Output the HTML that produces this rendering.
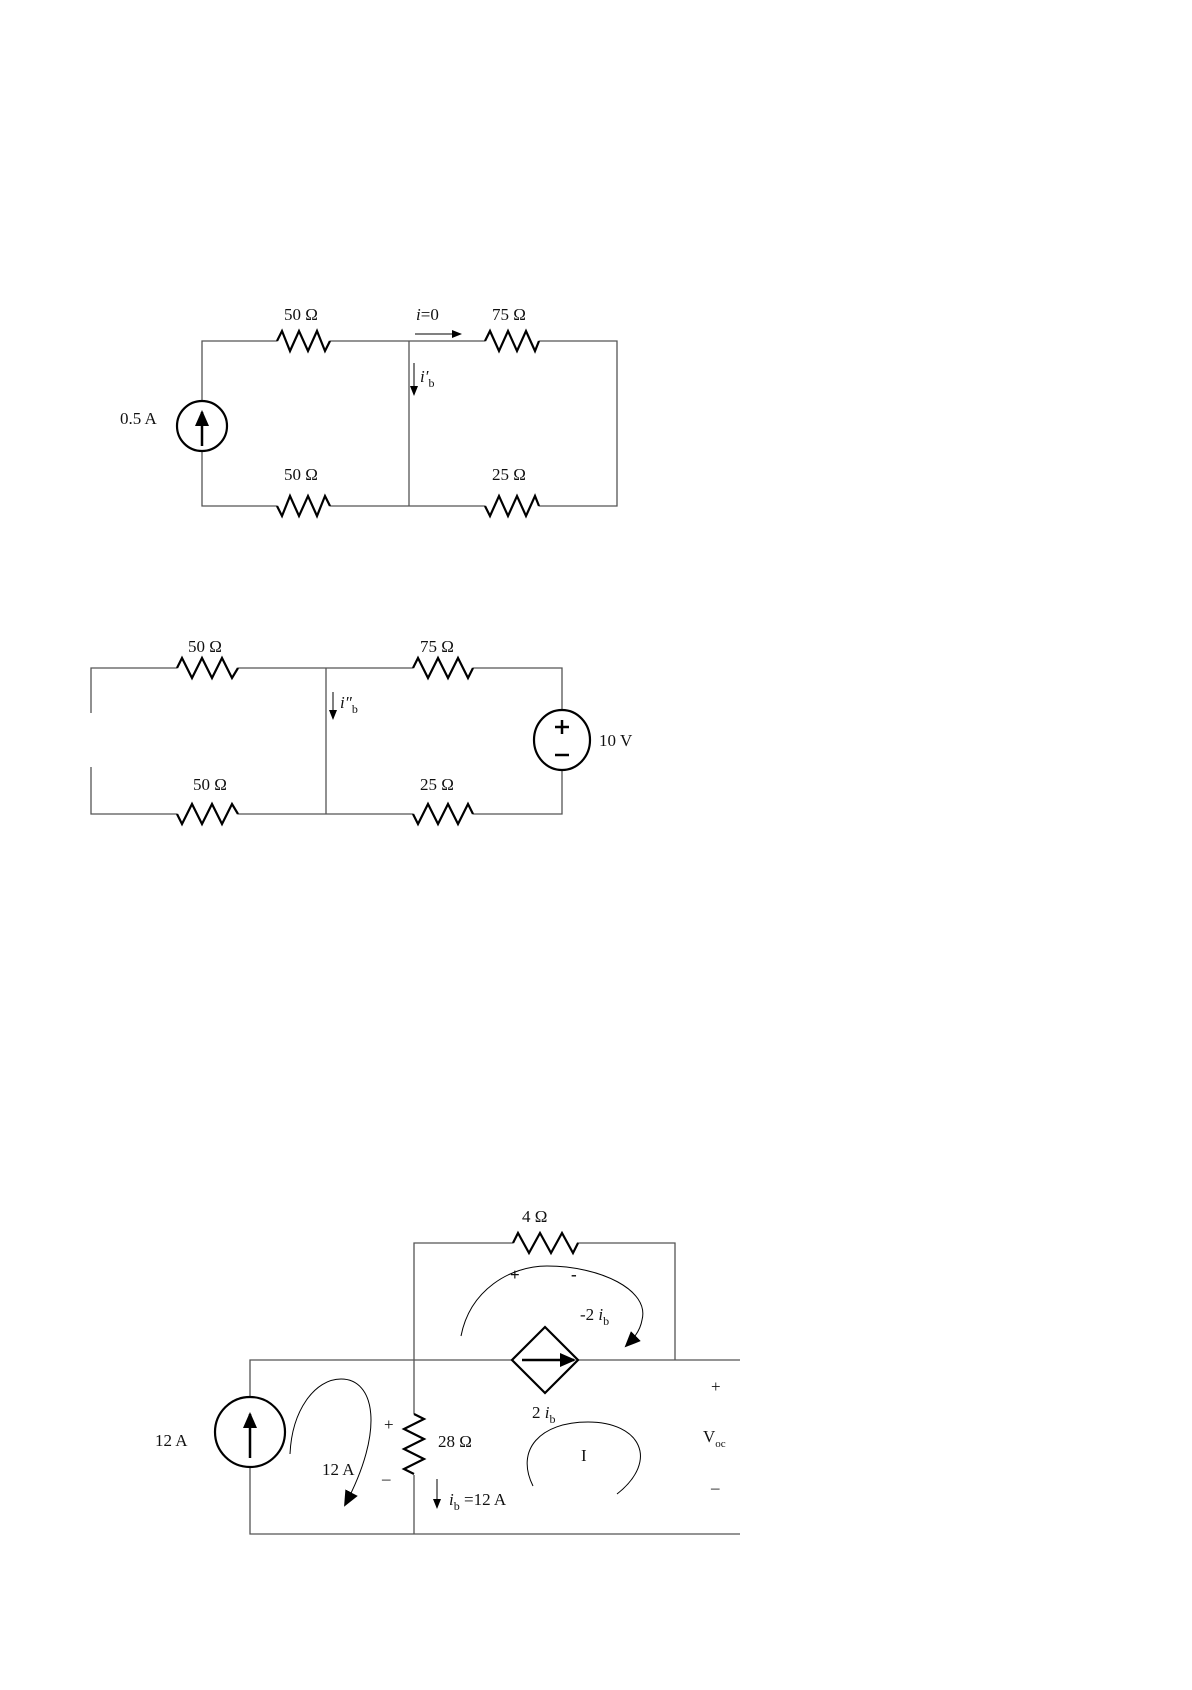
<!DOCTYPE html>
<html><head><meta charset="utf-8"><style>
html,body{margin:0;padding:0;background:#fff}
svg text{font-family:"Liberation Serif",serif;font-size:17px;fill:#111}
</style></head><body>
<svg width="1192" height="1685" viewBox="0 0 1192 1685" xmlns="http://www.w3.org/2000/svg">
<defs>
<marker id="ah" markerWidth="10" markerHeight="8" refX="9" refY="4" orient="auto" markerUnits="userSpaceOnUse"><path d="M0,0 L10,4 L0,8 z" fill="#000"/></marker>
<marker id="ab" markerWidth="16" markerHeight="14" refX="14" refY="7" orient="auto" markerUnits="userSpaceOnUse"><path d="M0,0 L16,7 L0,14 z" fill="#000"/></marker>
</defs>
<g fill="none" stroke="#555" stroke-width="1.3">
<!-- circuit 1 -->
<path d="M202,401 V341 H277 M330,341 H485 M539,341 H617 V506 H539 M485,506 H330 M277,506 H202 V451 M409,341 V506"/>
<!-- circuit 2 -->
<path d="M91,713 V668 H177 M238,668 H413 M473,668 H562 V710 M562,770 V814 H473 M413,814 H238 M177,814 H91 V767 M326,668 V814"/>
<!-- circuit 3 -->
<path d="M250,1397 V1360 H512 M578,1360 H740 M250,1467 V1534 H740 M414,1360 V1414 M414,1475 V1534 M414,1360 V1243 H513 M577,1243 H675 V1360"/>
</g>
<g fill="none" stroke="#000" stroke-width="2.2" stroke-linejoin="miter">
<path d="M277,341 l5,-10 l8,20 l9,-20 l9,20 l9,-20 l8,20 l5,-10"/>
<path d="M485,341 l5,-10 l9,20 l9,-20 l9,20 l9,-20 l9,20 l4,-10"/>
<path d="M277,506 l5,10 l8,-20 l9,20 l9,-20 l9,20 l8,-20 l5,10"/>
<path d="M485,506 l5,10 l9,-20 l9,20 l9,-20 l9,20 l9,-20 l4,10"/>
<path d="M177,668 l5,-10 l10,20 l10,-20 l10,20 l10,-20 l10,20 l6,-10"/>
<path d="M413,668 l5,-10 l10,20 l10,-20 l10,20 l10,-20 l10,20 l5,-10"/>
<path d="M177,814 l5,10 l10,-20 l10,20 l10,-20 l10,20 l10,-20 l6,10"/>
<path d="M413,814 l5,10 l10,-20 l10,20 l10,-20 l10,20 l10,-20 l5,10"/>
<path d="M513,1243 l5,-10 l11,20 l11,-20 l11,20 l11,-20 l11,20 l5,-10"/>
<path d="M414,1414 l10,5 l-20,10 l20,10 l-20,10 l20,10 l-20,10 l10,5"/>
<circle cx="202" cy="426" r="25"/>
<ellipse cx="562" cy="740" rx="28" ry="30"/>
<circle cx="250" cy="1432" r="35"/>
<path d="M545,1327 L578,1360 L545,1393 L512,1360 Z"/>
</g>
<g stroke="#000" stroke-width="2.5">
<line x1="202" y1="446" x2="202" y2="412" marker-end="url(#ab)"/>
<line x1="250" y1="1458" x2="250" y2="1414" marker-end="url(#ab)"/>
<line x1="522" y1="1360" x2="574" y2="1360" marker-end="url(#ab)"/>
<line x1="555" y1="727" x2="569" y2="727"/><line x1="562" y1="720" x2="562" y2="734"/>
<line x1="555" y1="755" x2="569" y2="755"/>
</g>
<g stroke="#000" stroke-width="1">
<line x1="415" y1="334" x2="461" y2="334" marker-end="url(#ah)"/>
<line x1="414" y1="363" x2="414" y2="395" marker-end="url(#ah)"/>
<line x1="333" y1="692" x2="333" y2="719" marker-end="url(#ah)"/>
<line x1="437" y1="1479" x2="437" y2="1508" marker-end="url(#ah)"/>
</g>
<g fill="none" stroke="#000" stroke-width="1">
<path d="M461,1336 C470,1290 510,1266 547,1266 C600,1266 650,1290 642,1320 C640,1332 632,1340 626,1346" marker-end="url(#ab)"/>
<path d="M290,1454 C292,1410 315,1379 341,1379 C375,1379 385,1430 345,1505" marker-end="url(#ab)"/>
<path d="M533,1486 C515,1450 540,1422 588,1422 C640,1422 660,1460 617,1494"/>
</g>
<path d="M346,1507 l-5,3 l0,0" stroke="none"/>
<g>
<text x="284" y="320">50 Ω</text>
<text x="492" y="320">75 Ω</text>
<text x="284" y="480">50 Ω</text>
<text x="492" y="480">25 Ω</text>
<text x="416" y="320"><tspan font-style="italic">i</tspan>=0</text>
<text x="420" y="382" font-style="italic">i′<tspan font-style="normal" font-size="12" dy="5">b</tspan></text>
<text x="120" y="424">0.5 A</text>
<text x="188" y="652">50 Ω</text>
<text x="420" y="652">75 Ω</text>
<text x="193" y="790">50 Ω</text>
<text x="420" y="790">25 Ω</text>
<text x="340" y="708" font-style="italic">i″<tspan font-style="normal" font-size="12" dy="5">b</tspan></text>
<text x="599" y="746">10 V</text>
<text x="522" y="1222">4 Ω</text>
<text x="510" y="1280" font-size="15" font-weight="bold">+</text>
<text x="571" y="1280" font-size="15" font-weight="bold">-</text>
<text x="580" y="1320">-2 <tspan font-style="italic">i</tspan><tspan font-size="12" dy="5">b</tspan></text>
<text x="155" y="1446">12 A</text>
<text x="322" y="1475">12 A</text>
<text x="384" y="1430" font-size="15">+</text>
<text x="382" y="1484">–</text>
<text x="438" y="1447">28 Ω</text>
<text x="532" y="1418">2 <tspan font-style="italic">i</tspan><tspan font-size="12" dy="5">b</tspan></text>
<text x="581" y="1461">I</text>
<text x="449" y="1505"><tspan font-style="italic">i</tspan><tspan font-size="12" dy="5">b</tspan><tspan dy="-5"> =12 A</tspan></text>
<text x="711" y="1392" font-size="15">+</text>
<text x="703" y="1442">V<tspan font-size="11" dy="5">oc</tspan></text>
<text x="711" y="1493">–</text>
</g>
</svg>
</body></html>
